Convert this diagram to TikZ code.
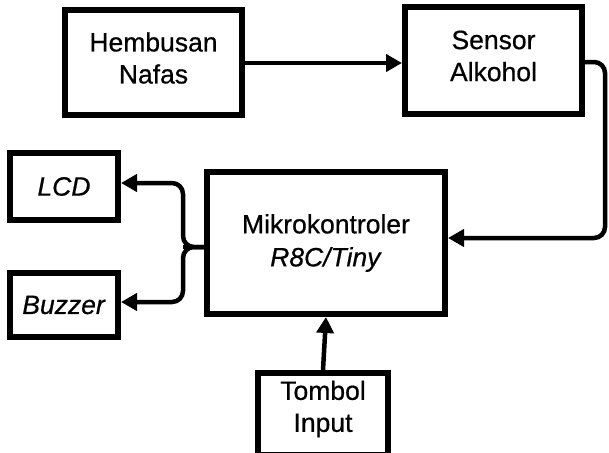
\documentclass[tikz,border=0pt]{standalone}
\usepackage{fontspec}
\setmainfont{Liberation Sans}[FakeBold=0.6]
\usetikzlibrary{arrows.meta}
\begin{document}
\begin{tikzpicture}[x=1pt,y=-1pt,
  blk/.style={draw, line width=6pt, rectangle, inner sep=0pt, align=center,
    font=\fontsize{26.5}{33}\selectfont},
  txt/.style={inner sep=0pt, align=center, font=\fontsize{26.5}{32}\selectfont},
  conn/.style={line width=4.5pt, -{Triangle[length=16pt,width=17pt]}},
  link/.style={line width=4.5pt}]
\useasboundingbox (0,0) rectangle (609,452);
\node[blk, minimum width=177pt, minimum height=105pt] (hem) at (153.5,62.5) {};
\node[txt] (hemt) at (153.5,58) {Hembusan\\Nafas};
\node[blk, minimum width=177pt, minimum height=107pt] (sen) at (493.5,60.5) {};
\node[txt] (sent) at (493.5,56) {Sensor\\Alkohol};
\node[blk, minimum width=238pt, minimum height=142pt] (mik) at (326,243) {Mikrokontroler\\\textit{R8C/Tiny}};
\node[blk, minimum width=108pt, minimum height=67pt] (lcd) at (64,186.5) {\textit{LCD}};
\node[blk, minimum width=108pt, minimum height=64pt] (buz) at (64,305) {\textit{Buzzer}};
\node[blk, minimum width=130pt, minimum height=82pt] (tom) at (323,414) {};
\node[txt] (tomt) at (323,409) {Tombol\\Input};
\coordinate (j) at (183,247);
\coordinate (r1) at (605,62);
\coordinate (r2) at (605,238);
\draw[conn] (hem.east |- 0,63) -- (sen.west |- 0,63);
\draw[conn, rounded corners=11pt] (sen.east |- r1) -- (r1) -- (r2) -- (mik.east |- r2);
\draw[link] (mik.west |- j) -- (j);
\draw[conn, rounded corners=11pt] (mik.west |- j) -- (j) -- (j |- 0,183) -- (lcd.east |- 0,183);
\draw[conn, rounded corners=11pt] (mik.west |- j) -- (j) -- (j |- 0,302) -- (buz.east |- 0,302);
\draw[conn] (tom.north) -- (mik.south);
\end{tikzpicture}
\end{document}
